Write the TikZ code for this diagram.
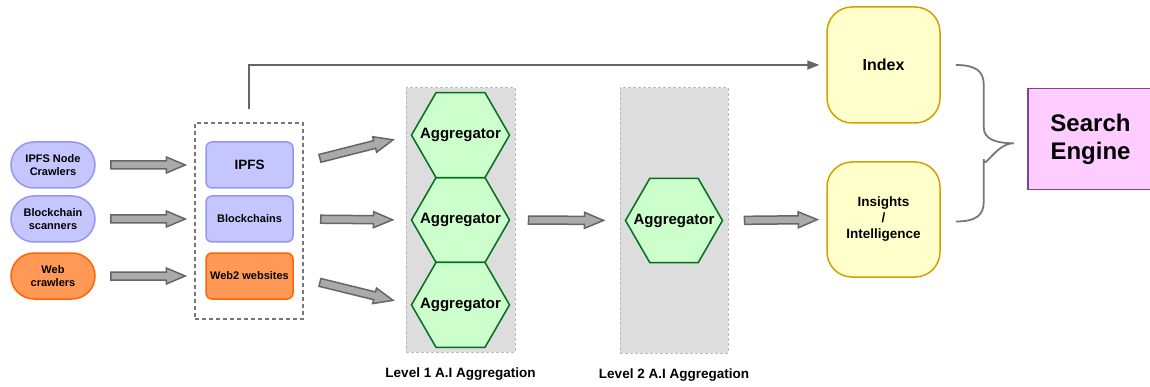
\documentclass[tikz,border=0pt]{standalone}
\usepackage{fontspec}
\setmainfont{Liberation Sans}
\usetikzlibrary{shapes, arrows.meta, positioning, calc}

\definecolor{lavfill}{RGB}{198,198,255}
\definecolor{lavline}{RGB}{150,150,240}
\definecolor{orgfill}{RGB}{255,153,85}
\definecolor{orgline}{RGB}{255,102,0}
\definecolor{hexfill}{RGB}{204,255,204}
\definecolor{hexline}{RGB}{0,110,30}
\definecolor{panelfill}{RGB}{221,221,221}
\definecolor{panelline}{RGB}{187,187,187}
\definecolor{ylwfill}{RGB}{255,255,204}
\definecolor{ylwline}{RGB}{210,160,0}
\definecolor{pinkfill}{RGB}{255,204,255}
\definecolor{pinkline}{RGB}{128,64,160}
\definecolor{arrowfill}{RGB}{170,170,170}
\definecolor{arrowline}{RGB}{102,102,102}
\definecolor{bracegray}{RGB}{119,119,119}

% text that does not push the hexagon outwards
\newcommand{\hextext}[1]{\makebox[0pt]{#1}}

\begin{document}
\begin{tikzpicture}[x=1pt, y=-1pt,
    crawler/.style={rounded rectangle, draw=lavline, fill=lavfill, line width=1.5pt,
      minimum width=86pt, minimum height=46pt, align=center, inner sep=1pt,
      font=\bfseries\fontsize{11}{13.5}\selectfont},
    source/.style={rectangle, rounded corners=6pt, draw=lavline, fill=lavfill, line width=1.5pt,
      minimum width=87pt, minimum height=46pt, align=center, inner sep=1pt,
      font=\bfseries\fontsize{11}{13.5}\selectfont},
    srcgroup/.style={rectangle, draw=bracegray, line width=1.5pt, dash pattern=on 4pt off 3pt},
    panel/.style={rectangle, fill=panelfill, draw=panelline, line width=1pt, dash pattern=on 3pt off 2pt},
    agg/.style={regular polygon, regular polygon sides=6, minimum size=98pt, inner sep=0pt,
      outer sep=0pt, draw=hexline, fill=hexfill, line width=1.5pt,
      font=\bfseries\fontsize{15}{18}\selectfont},
    outbox/.style={rectangle, rounded corners=25pt, draw=ylwline, fill=ylwfill, line width=1.5pt,
      minimum width=113pt, minimum height=115pt, align=center},
    lvllabel/.style={font=\bfseries\fontsize{13.5}{16}\selectfont},
    conn/.style={draw=arrowline, line width=1.5pt, -{Triangle[length=12pt,width=9pt]}},
    brace/.style={draw=bracegray, line width=1.8pt},
    fat/.style={draw=arrowline, fill=arrowfill, line width=1.5pt, line join=miter,
      to path={let \p1=($(\tikztotarget)-(\tikztostart)$),
                   \n1={atan2(\y1,\x1)}, \n2={veclen(\x1,\y1)} in
        ($(\tikztostart)+(\n1+90:4pt)$)
        -- ($(\tikztostart)+(\n1:\n2-19pt)+(\n1+90:4pt)$)
        -- ($(\tikztostart)+(\n1:\n2-19pt)+(\n1+90:8pt)$)
        -- (\tikztotarget)
        -- ($(\tikztostart)+(\n1:\n2-19pt)+(\n1-90:8pt)$)
        -- ($(\tikztostart)+(\n1:\n2-19pt)+(\n1-90:4pt)$)
        -- ($(\tikztostart)+(\n1-90:4pt)$) -- cycle}}
  ]
  \useasboundingbox (0,0) rectangle (1150,387);

  % crawlers
  \node[crawler] (c1) at (53,165) {IPFS Node\\Crawlers};
  \node[crawler] (c2) at (53,219) {Blockchain\\scanners};
  \node[crawler, draw=orgline, fill=orgfill] (c3) at (53,276) {Web\\crawlers};

  % data sources
  \node[srcgroup, minimum width=108pt, minimum height=196pt] (sources) at (249,221) {};
  \node[source, font=\bfseries\fontsize{13.5}{16}\selectfont] (s1) at (249.5,165) {IPFS};
  \node[source] (s2) at (249.5,219) {Blockchains};
  \node[source, draw=orgline, fill=orgfill] (s3) at (249.5,276) {Web2 websites};

  % aggregation levels
  \node[panel, minimum width=109pt, minimum height=264pt] (lvl1) at (460.5,220) {};
  \node[agg] (agg12) at (lvl1) {\hextext{Aggregator}};
  \node[agg, above=0pt of agg12] (agg11) {\hextext{Aggregator}};
  \node[agg, below=0pt of agg12] (agg13) {\hextext{Aggregator}};
  \node[lvllabel, below=12pt of lvl1] (lvl1txt) {Level 1 A.I Aggregation};

  \node[panel, minimum width=108pt, minimum height=265pt] (lvl2) at (674,220.5) {};
  \node[agg, minimum size=97pt] (agg2) at (lvl2) {\hextext{Aggregator}};
  \node[lvllabel, below=12pt of lvl2] (lvl2txt) {Level 2 A.I Aggregation};

  % outputs
  \node[outbox, minimum height=116pt, font=\bfseries\fontsize{16}{19}\selectfont] (index) at (883.5,65) {Index};
  \node[outbox, font=\bfseries\fontsize{13.5}{16}\selectfont] (insight) at (883.5,219.5) {Insights\\/\\Intelligence};
  \node[rectangle, draw=pinkline, fill=pinkfill, line width=1.5pt, minimum width=125pt,
    minimum height=101pt, align=center, font=\bfseries\fontsize{24}{28}\selectfont]
    (engine) at (1090.5,139) {Search\\Engine};

  % block arrows
  \foreach \i in {1,2,3}
    \draw[fat] ($(c\i.east)!15pt!(s\i.west)$) to ($(s\i.west)!20pt!(c\i.east)$);
  \foreach \i in {1,2,3}
    \draw[fat] ($(s\i.east)!27pt!(agg1\i.west)$) to ($(agg1\i.west)!19pt!(s\i.east)$);
  \draw[fat] ($(lvl1.east)!13pt!(lvl2.west)$) to ($(lvl2.west)!16pt!(lvl1.east)$);
  \draw[fat] ($(lvl2.east)!16pt!(insight.west)$) to ($(insight.west)!9pt!(lvl2.east)$);

  % raw sources straight into the index
  \draw[conn, shorten >=7pt] ([yshift=13pt]sources.north) |- (index.west);

  % brace joining index and insights
  \coordinate (bt) at ($(index.east)+(15,0)$);
  \coordinate (bb) at ($(insight.east)+(15,2)$);
  \coordinate (bm) at ($($(bt)!0.5!(bb)$)+(58,0)$);
  \draw[brace] (bt) .. controls +(20,0) and +(0,-14) .. ($(bt)+(28,20)$)
    -- ($(bm)+(-30,-16)$) .. controls +(0,12) and +(-18,0) .. (bm)
    .. controls +(-18,0) and +(0,12) .. ($(bm)+(-30,16)$)
    -- ($(bb)+(28,-20)$) .. controls +(0,14) and +(20,0) .. (bb);
\end{tikzpicture}
\end{document}
